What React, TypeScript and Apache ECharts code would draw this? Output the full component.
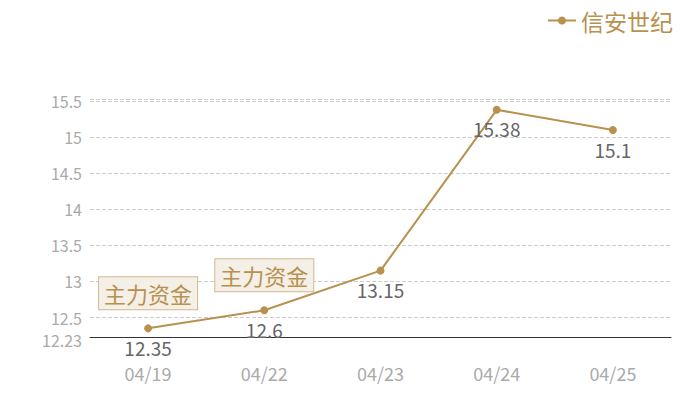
import { useEffect, useRef } from 'react';
import * as echarts from 'echarts';

const categories = ['04/19', '04/22', '04/23', '04/24', '04/25'];
const prices = [12.35, 12.6, 13.15, 15.38, 15.1];
const seriesName = '信安世纪';
const flagIndexes = [0, 1];
const flagText = '主力资金';
const yMin = 12.23;
const yMax = 15.53;

const GOLD = '#b8914f';
const FONT = '"Noto Sans CJK SC", "Noto Sans", sans-serif';

export default function App() {
  const chartRef = useRef<HTMLDivElement>(null);

  useEffect(() => {
    if (!chartRef.current) return;
    const chart = echarts.init(chartRef.current, undefined, { renderer: 'svg' });

    chart.setOption({
      animation: false,
      textStyle: { fontFamily: FONT },
      legend: {
        data: [seriesName],
        right: 22,
        top: 4,
        itemWidth: 28,
        itemHeight: 10,
        textStyle: { color: GOLD, fontSize: 23, fontFamily: FONT },
      },
      grid: { left: 90, right: 29, top: 99, bottom: 63 },
      xAxis: {
        type: 'category',
        data: categories,
        axisLine: { lineStyle: { color: '#333', width: 1 } },
        axisTick: { show: false },
        axisLabel: { color: '#aaa', fontSize: 18, margin: 27, lineHeight: 18, fontFamily: FONT },
      },
      yAxis: {
        type: 'value',
        min: yMin,
        max: yMax,
        axisLine: { show: false },
        axisTick: { show: false },
        axisLabel: {
          color: '#aaa',
          fontSize: 16,
          lineHeight: 16,
          margin: 8,
          showMaxLabel: false,
          fontFamily: FONT,
          formatter: (v: number) => (v === yMin ? '{low|' + v + '}' : String(v)),
          rich: {
            low: { fontSize: 16, color: '#aaa', padding: [5, 0, 0, 0], fontFamily: FONT },
          },
        },
        splitLine: { lineStyle: { color: '#ccc', type: 'dashed', width: 1 } },
      },
      series: [
        {
          name: seriesName,
          type: 'line',
          data: prices,
          symbol: 'circle',
          symbolSize: 8,
          lineStyle: { color: GOLD, width: 2 },
          itemStyle: { color: GOLD },
          label: {
            show: true,
            position: 'bottom',
            distance: 6,
            color: '#666',
            fontSize: 19,
            lineHeight: 18,
            fontFamily: FONT,
          },
          markPoint: {
            symbol: 'rect',
            symbolSize: 0,
            data: flagIndexes.map((i) => ({ coord: [i, prices[i]] })),
            label: {
              show: true,
              position: 'inside',
              offset: [0, -35],
              formatter: flagText,
              color: GOLD,
              fontSize: 22,
              lineHeight: 24,
              fontFamily: FONT,
              backgroundColor: '#f4efe7',
              borderColor: '#d2b98f',
              borderWidth: 1,
              padding: [4, 5, 4, 5],
            },
          },
        },
      ],
    });

    return () => chart.dispose();
  }, []);

  return (
    <div
      ref={chartRef}
      style={{ position: 'fixed', left: 0, top: 0, width: 700, height: 400, background: '#fff' }}
    />
  );
}
